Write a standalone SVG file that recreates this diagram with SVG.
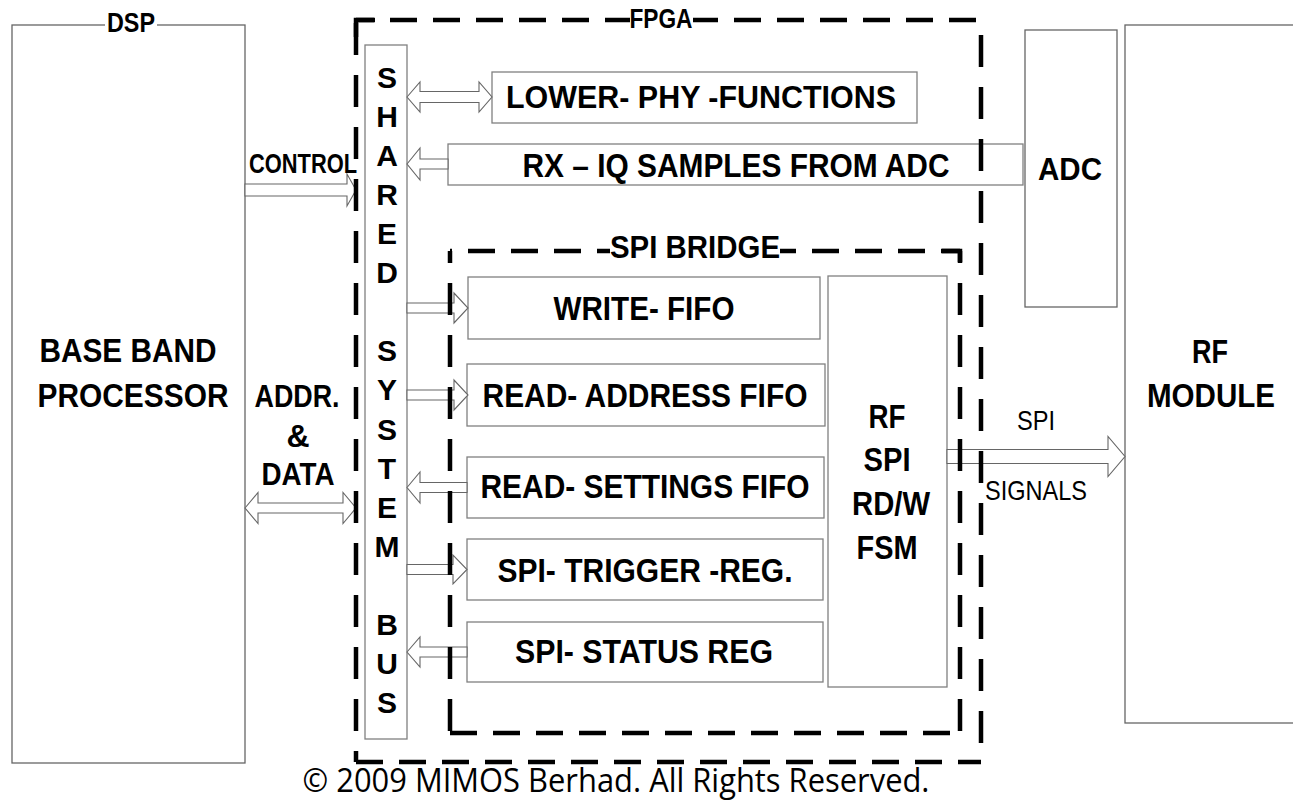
<svg xmlns="http://www.w3.org/2000/svg" width="1293" height="801" viewBox="0 0 1293 801">
<style>
.box{fill:#fff;stroke:#666;stroke-width:1.3}
.ibox{fill:#fff;stroke:#808080;stroke-width:1.3}
.t{font-family:"Liberation Sans",Arial,sans-serif;font-weight:bold;fill:#000;text-anchor:middle}
.r{font-family:"Liberation Sans",Arial,sans-serif;font-weight:normal;fill:#000;text-anchor:middle}
.arr{fill:#fff;stroke:#666;stroke-width:1.1;stroke-linejoin:miter}
.dsh{fill:none;stroke:#000;stroke-width:4.5}
.sol{fill:none;stroke:#000;stroke-width:4.5}
.bg{fill:#fff}
.cr{font-family:"Open Sans","Noto Sans",sans-serif;fill:#000;text-anchor:middle}
</style>
<rect width="1293" height="801" fill="#fff"/>

<g id="dsp">
<rect class="box" x="12" y="25" width="233" height="738"/>
<rect class="bg" x="105" y="14" width="52" height="22"/>
<text class="t" x="131" y="32" font-size="28" textLength="48" lengthAdjust="spacingAndGlyphs">DSP</text>
<text class="t" x="128" y="362" font-size="33" textLength="177" lengthAdjust="spacingAndGlyphs">BASE BAND</text>
<text class="t" x="133" y="407" font-size="33" textLength="191" lengthAdjust="spacingAndGlyphs">PROCESSOR</text>
</g>

<g id="rf-module">
<rect class="box" x="1125" y="25" width="190" height="698"/>
<text class="t" x="1210" y="363" font-size="33" textLength="36" lengthAdjust="spacingAndGlyphs">RF</text>
<text class="t" x="1211" y="407" font-size="33" textLength="128" lengthAdjust="spacingAndGlyphs">MODULE</text>
</g>

<g id="adc">
<rect class="box" x="1025" y="30" width="92" height="277"/>
<text class="t" x="1070" y="180" font-size="32" textLength="64" lengthAdjust="spacingAndGlyphs">ADC</text>
</g>

<g id="shared-bus">
<rect class="ibox" x="365" y="45" width="42" height="694"/>
<g class="t" font-size="30">
<text x="387" y="88">S</text>
<text x="387" y="127">H</text>
<text x="387" y="166">A</text>
<text x="387" y="205">R</text>
<text x="387" y="244">E</text>
<text x="387" y="283">D</text>
<text x="387" y="361">S</text>
<text x="387" y="400">Y</text>
<text x="387" y="440">S</text>
<text x="387" y="479">T</text>
<text x="387" y="518">E</text>
<text x="387" y="557">M</text>
<text x="387" y="635">B</text>
<text x="387" y="674">U</text>
<text x="387" y="713">S</text>
</g>
</g>

<g id="lower-phy">
<rect class="ibox" x="492" y="72" width="425" height="51"/>
<text class="t" x="701" y="108" font-size="32" textLength="390" lengthAdjust="spacingAndGlyphs">LOWER- PHY -FUNCTIONS</text>
</g>

<g id="rx-iq">
<rect class="ibox" x="448" y="144" width="575" height="41"/>
<text class="t" x="736" y="177" font-size="33" textLength="427" lengthAdjust="spacingAndGlyphs">RX – IQ SAMPLES FROM ADC</text>
</g>

<g id="write-fifo">
<rect class="ibox" x="468" y="277" width="352" height="62"/>
<text class="t" x="644" y="320" font-size="34" textLength="181" lengthAdjust="spacingAndGlyphs">WRITE- FIFO</text>
</g>

<g id="read-address-fifo">
<rect class="ibox" x="467" y="364" width="358" height="62"/>
<text class="t" x="645" y="407" font-size="34" textLength="325" lengthAdjust="spacingAndGlyphs">READ- ADDRESS FIFO</text>
</g>

<g id="read-settings-fifo">
<rect class="ibox" x="467" y="457" width="357" height="61"/>
<text class="t" x="645" y="498" font-size="34" textLength="329" lengthAdjust="spacingAndGlyphs">READ- SETTINGS FIFO</text>
</g>

<g id="spi-trigger-reg">
<rect class="ibox" x="467" y="539" width="356" height="61"/>
<text class="t" x="645" y="582" font-size="34" textLength="295" lengthAdjust="spacingAndGlyphs">SPI- TRIGGER -REG.</text>
</g>

<g id="spi-status-reg">
<rect class="ibox" x="467" y="622" width="356" height="60"/>
<text class="t" x="644" y="663" font-size="34" textLength="258" lengthAdjust="spacingAndGlyphs">SPI- STATUS REG</text>
</g>

<g id="rf-spi-fsm">
<rect class="ibox" x="828" y="276" width="119" height="411"/>
<text class="t" x="887" y="428" font-size="34" textLength="37" lengthAdjust="spacingAndGlyphs">RF</text>
<text class="t" x="887" y="471" font-size="34" textLength="47" lengthAdjust="spacingAndGlyphs">SPI</text>
<text class="t" x="891" y="515" font-size="34" textLength="78" lengthAdjust="spacingAndGlyphs">RD/W</text>
<text class="t" x="887" y="559" font-size="34" textLength="61" lengthAdjust="spacingAndGlyphs">FSM</text>
</g>

<g id="connectors">
<path class="arr" d="M407,97 L420,82 L420,91.5 L479,91.5 L479,82 L492,97 L479,112 L479,102.5 L420,102.5 L420,112 Z"/>
<path class="arr" d="M407,164 L420,148 L420,159 L448,159 L448,169 L420,169 L420,180 Z"/>
<path class="arr" d="M245,184 L347,184 L347,174 L356,190 L347,206 L347,196 L245,196 Z"/>
<path class="arr" d="M245,508 L258,492.5 L258,503 L343,503 L343,492.5 L356,508 L343,523.5 L343,513 L258,513 L258,523.5 Z"/>
<path class="arr" d="M407,303 L454,303 L454,293 L468,308 L454,323 L454,313 L407,313 Z"/>
<path class="arr" d="M407,390 L454,390 L454,380 L468,395 L454,410 L454,400 L407,400 Z"/>
<path class="arr" d="M407,487.5 L420,472 L420,482.5 L467,482.5 L467,492.5 L420,492.5 L420,503 Z"/>
<path class="arr" d="M407,564.5 L453,564.5 L453,555 L467,569.5 L453,584 L453,574.5 L407,574.5 Z"/>
<path class="arr" d="M407,652 L420,637 L420,647 L467,647 L467,657 L420,657 L420,667 Z"/>
<path class="arr" d="M947,449.5 L1108,449.5 L1108,436.5 L1125,456.5 L1108,476.5 L1108,463.5 L947,463.5 Z"/>
<text class="t" x="303" y="173" font-size="27" textLength="108" lengthAdjust="spacingAndGlyphs">CONTROL</text>
<text class="t" x="297" y="407" font-size="32" textLength="85" lengthAdjust="spacingAndGlyphs">ADDR.</text>
<text class="t" x="298" y="447" font-size="32">&amp;</text>
<text class="t" x="298" y="485" font-size="32" textLength="73" lengthAdjust="spacingAndGlyphs">DATA</text>
<text class="r" x="1036" y="430" font-size="28" textLength="38" lengthAdjust="spacingAndGlyphs">SPI</text>
<text class="r" x="1036" y="500" font-size="28" textLength="102" lengthAdjust="spacingAndGlyphs">SIGNALS</text>
</g>

<g id="fpga">
<line class="dsh" x1="356" y1="20" x2="981" y2="20" stroke-dasharray="27 16" stroke-dashoffset="9"/>
<line class="dsh" x1="356" y1="762" x2="981" y2="762" stroke-dasharray="27 16" stroke-dashoffset="0"/>
<line class="dsh" x1="356" y1="20" x2="356" y2="762" stroke-dasharray="32 20" stroke-dashoffset="49"/>
<line class="dsh" x1="981" y1="20" x2="981" y2="762" stroke-dasharray="32 20" stroke-dashoffset="37"/>
<path class="sol" d="M356,37 L356,20 L375,20"/>
<rect class="bg" x="630" y="8" width="63" height="22"/>
<text class="t" x="661" y="28" font-size="28" textLength="63" lengthAdjust="spacingAndGlyphs">FPGA</text>
</g>

<g id="spi-bridge">
<line class="dsh" x1="450" y1="251" x2="960" y2="251" stroke-dasharray="27 16" stroke-dashoffset="25"/>
<line class="dsh" x1="450" y1="733" x2="960" y2="733" stroke-dasharray="27 16" stroke-dashoffset="0"/>
<line class="dsh" x1="450" y1="251" x2="450" y2="733" stroke-dasharray="32 20" stroke-dashoffset="20"/>
<line class="dsh" x1="960" y1="251" x2="960" y2="733" stroke-dasharray="32 20" stroke-dashoffset="20"/>
<path class="sol" d="M942,251 L960,251 L960,262"/>
<rect class="bg" x="610" y="236" width="170" height="26"/>
<text class="t" x="695" y="258" font-size="32" textLength="170" lengthAdjust="spacingAndGlyphs">SPI BRIDGE</text>
</g>

<text class="cr" x="616" y="792" font-size="33" textLength="627" lengthAdjust="spacingAndGlyphs">© 2009 MIMOS Berhad. All Rights Reserved.</text>
</svg>
